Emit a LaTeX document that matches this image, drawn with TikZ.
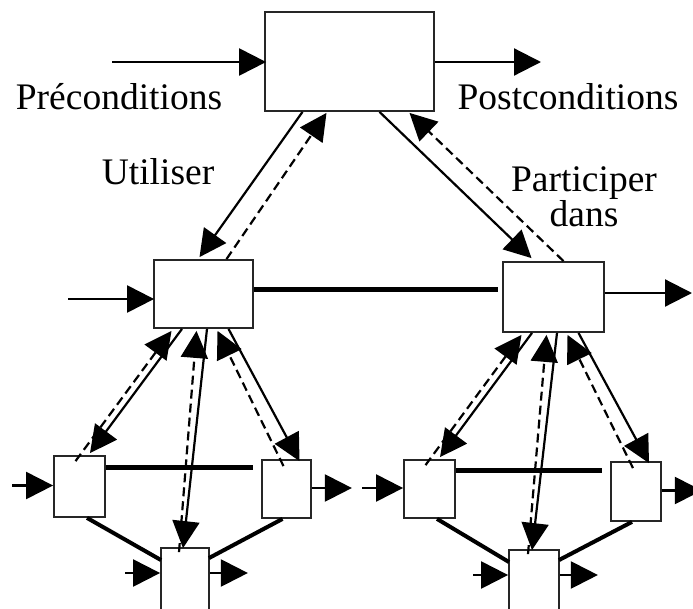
\documentclass[tikz,border=0pt]{standalone}
\usepackage{fontspec}
\setmainfont{Liberation Serif}
\usetikzlibrary{arrows.meta,calc}
\begin{document}
\begin{tikzpicture}[x=1pt,y=-1pt,
  box/.style={draw=black!85,line width=1.8pt,fill=white,inner sep=0pt},
  thin/.style={line width=2.2pt},
  tip/.style={-{Triangle[length=27pt,width=27pt]}},
  dashline/.style={thin,dash pattern=on 9pt off 5pt},
  heavy/.style={line width=5pt},
  link/.style={line width=4pt},
  lbl/.style={font=\fontsize{37.5}{32}\selectfont,inner sep=0pt,align=center}]
\useasboundingbox (0,0) rectangle (693,608);

% boxes
\node[box,minimum width=169pt,minimum height=99pt] (top) at (349.5,61.5) {};
\node[box,minimum width=99pt,minimum height=68pt] (ml) at (203.5,294) {};
\node[box,minimum width=101pt,minimum height=70pt] (mr) at (553.5,297) {};
\node[box,minimum width=51pt,minimum height=61pt] (LL) at (79.5,486.5) {};
\node[box,minimum width=49pt,minimum height=58pt] (LR) at (286.5,489) {};
\node[box,minimum width=48pt,minimum height=72pt] (LB) at (185,584) {};
\node[box,minimum width=51pt,minimum height=58pt] (RL) at (429.5,489) {};
\node[box,minimum width=50pt,minimum height=59pt] (RR) at (636,491.5) {};
\node[box,minimum width=50pt,minimum height=72pt] (RB) at (534,586) {};

% labels
\node[lbl] (pre) at (119,97) {Préconditions};
\node[lbl] (post) at (568,97) {Postconditions};
\node[lbl] (use) at (158,172) {Utiliser};
\node[lbl] (part) at (584,197) {Participer\\dans};

% top-level inputs and outputs
\coordinate (topin) at (112,62);
\coordinate (topout) at (541,62);
\draw[thin,tip] (topin) -- ($(topin -| top.west)+(2,0)$);
\draw[thin,tip] (topout -| top.east) -- (topout);
\coordinate (mlin) at (68,299);
\coordinate (mrout) at (692,293);
\draw[thin,tip] (mlin) -- ($(mlin -| ml.west)+(1,0)$);
\draw[thin,tip] (mrout -| mr.east) -- (mrout);
\draw[heavy] ($(ml.east)+(0,-5)$) -- ($(mr.west)+(-4,-8)$);

% top box to the two sub-processes
\draw[thin,tip] ($(top.south)+(-47,0)$) -- ($(ml.north)+(-4,-2)$);
\draw[dashline,tip] ($(ml.north)+(23,0)$) -- ($(top.south)+(-23,1)$);
\draw[thin,tip] ($(top.south)+(30,0)$) -- ($(mr.north)+(-22,-3)$);
\draw[dashline,tip] ($(mr.north)+(10,0)$) -- ($(top.south)+(60,1)$);

% the two lower clusters
\foreach \m/\l/\r/\b in {ml/LL/LR/LB, mr/RL/RR/RB}{
  \draw[thin,tip] ($(\m.south)+(-21.5,0)$) -- ($(\l.north)+(10.5,-2)$);
  \draw[dashline,tip] ($(\l.north)+(-4,6)$) -- ($(\m.south)+(-32,2)$);
  \draw[thin,tip] ($(\m.south)+(3.5,0)$) -- ($(\b.north)+(-2,1)$);
  \draw[dashline,tip] ($(\b.north)+(-6,5)$) -- ($(\m.south)+(-7,2)$);
  \draw[dashline,tip] ($(\r.north)+(-3,7)$) -- ($(\m.south)+(14,2)$);
  \draw[thin,tip] ($(\m.south)+(25,0)$) -- ($(\r.north)+(13,2)$);
  \coordinate (\l-bar) at ($(\l.east)+(0,-19)$);
  \draw[heavy] (\l-bar) -- ($(\l-bar -| \r.west)+(-8,0)$);
  \draw[link] ($(\l.south)+(7.5,0)$) -- ($(\b.north west)+(1,13)$);
  \draw[link] ($(\r.south)+(-4,0)$) -- ($(\b.north east)+(-1,11)$);
  \coordinate (\l-in) at ($(\l.west)+(-41,-1)$);
  \coordinate (\r-out) at ($(\r.east)+(40,-1)$);
  \coordinate (\b-in) at ($(\b.west)+(-35,-11)$);
  \coordinate (\b-out) at ($(\b.east)+(38,-11)$);
  \draw[thin,tip] (\l-in) -- (\l-in -| \l.west);
  \draw[thin,tip] (\r-out -| \r.east) -- (\r-out);
  \draw[thin,tip] (\b-in) -- (\b-in -| \b.west);
  \draw[thin,tip] (\b-out -| \b.east) -- (\b-out);
}
\end{tikzpicture}
\end{document}
